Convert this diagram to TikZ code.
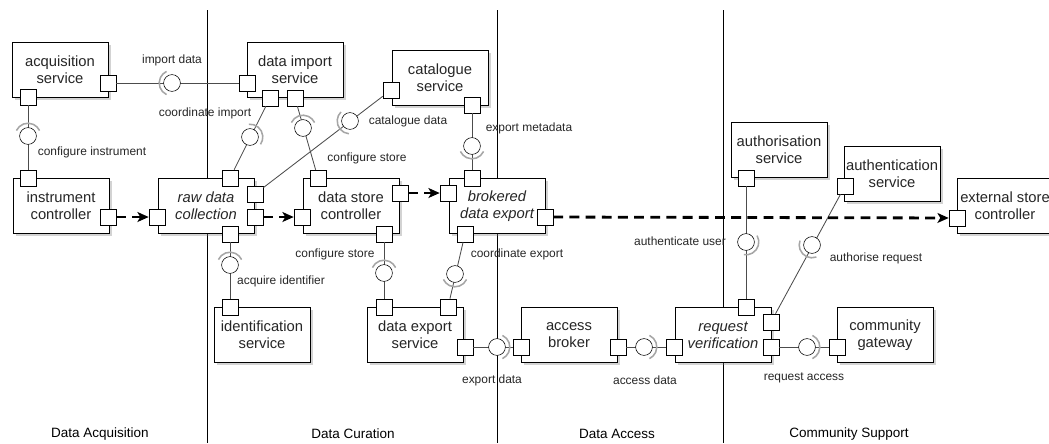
\documentclass[tikz,border=0pt]{standalone}
\usepackage{fontspec}
\setmainfont{Liberation Sans}
\usetikzlibrary{arrows.meta,shadows}

\begin{document}
\begin{tikzpicture}[x=0.025cm, y=-0.025cm,
    >={Stealth[length=8pt,width=7pt,inset=2pt]},
    comp/.style={draw, fill=white, minimum width=2.4cm, minimum height=1.38cm, inner sep=0pt,
      align=center, text=black!85, font=\fontsize{10.5}{12}\selectfont,
      drop shadow={shadow xshift=2pt, shadow yshift=-2pt, opacity=0.35}},
    port/.style={draw, fill=white, minimum size=0.4cm, inner sep=0pt},
    ball/.style={draw, circle, fill=white, minimum size=0.42cm, inner sep=0pt},
    wire/.style={black!70, line width=0.6pt},
    flow/.style={line width=2pt, dash pattern=on 7pt off 4.5pt, ->},
    lbl/.style={text=black!85, font=\fontsize{8.5}{10}\selectfont},
    lanelbl/.style={font=\fontsize{9.6}{11}\selectfont},
    sock/.pic={\draw[gray!70, line width=1.1pt] (65:0.32cm) arc[start angle=65, end angle=-65, radius=0.32cm];}]
  \useasboundingbox (0,0) rectangle (1049,443);

  % swim lanes
  \draw[line width=0.6pt] (207,10) -- (207,443);
  \draw[line width=0.6pt] (497,10) -- (497,443);
  \draw[line width=0.6pt] (723,10) -- (723,443);
  \node[lanelbl] (lane1) at (100,434) {Data Acquisition};
  \node[lanelbl] (lane2) at (353,434) {Data Curation};
  \node[lanelbl] (lane3) at (617,434) {Data Access};
  \node[lanelbl] (lane4) at (849,434) {Community Support};

  % components
  \node[comp] (acq) at (60,70) {acquisition\\service};
  \node[comp] (imp) at (295,70) {data import\\service};
  \node[comp] (cat) at (440,78) {catalogue\\service};
  \node[comp] (inst) at (61,206) {instrument\\controller};
  \node[comp] (raw) at (206,206) {\itshape raw data\\\itshape collection};
  \node[comp] (store) at (351,206) {data store\\controller};
  \node[comp] (brok) at (497,206) {\itshape brokered\\\itshape data export};
  \node[comp] (ident) at (262,335) {identification\\service};
  \node[comp] (expsvc) at (415,335) {data export\\service};
  \node[comp] (access) at (569,335) {access\\broker};
  \node[comp] (verif) at (723,335) {\itshape request\\\itshape verification};
  \node[comp] (gate) at (885,335) {community\\gateway};
  \node[comp] (authz) at (779,150) {authorisation\\service};
  \node[comp] (authn) at (892,174) {authentication\\service};
  \node[comp] (ext) at (1005,206) {external store\\controller};

  % ports
  \node[port] (acq-r) at (108,83) {};
  \node[port] (acq-b) at (28,97) {};
  \node[port] (imp-l) at (247,83) {};
  \node[port] (imp-b1) at (270,98) {};
  \node[port] (imp-b2) at (295,98) {};
  \node[port] (cat-l) at (391,90) {};
  \node[port] (cat-b) at (472,105) {};
  \node[port] (inst-t) at (28,178) {};
  \node[port] (inst-r) at (108,217) {};
  \node[port] (raw-l) at (157,217) {};
  \node[port] (raw-t) at (230,178) {};
  \node[port] (raw-r1) at (255,194) {};
  \node[port] (raw-r2) at (255,217) {};
  \node[port] (raw-b) at (230,234) {};
  \node[port] (store-l) at (302,217) {};
  \node[port] (store-t) at (318,178) {};
  \node[port] (store-r) at (400,193) {};
  \node[port] (store-b) at (384,234) {};
  \node[port] (brok-l) at (448,193) {};
  \node[port] (brok-t) at (472,178) {};
  \node[port] (brok-r) at (545,217) {};
  \node[port] (brok-b) at (465,234) {};
  \node[port] (ident-t) at (230,307) {};
  \node[port] (exp-t1) at (384,307) {};
  \node[port] (exp-t2) at (448,307) {};
  \node[port] (exp-r) at (465,347) {};
  \node[port] (access-l) at (521,347) {};
  \node[port] (access-r) at (618,347) {};
  \node[port] (verif-l) at (674,347) {};
  \node[port] (verif-t) at (746,307) {};
  \node[port] (verif-r1) at (771,322) {};
  \node[port] (verif-r2) at (771,347) {};
  \node[port] (gate-l) at (837,347) {};
  \node[port] (authz-b) at (746,178) {};
  \node[port] (authn-l) at (845,186) {};
  \node[port] (ext-l) at (957,218) {};

  % interfaces
  \draw[wire] (acq-r) -- (imp-l);
  \draw[wire] (acq-b) -- (inst-t);
  \draw[wire] (imp-b1) -- (raw-t);
  \draw[wire] (imp-b2) -- (store-t);
  \draw[wire] (cat-l) -- (raw-r1);
  \draw[wire] (cat-b) -- (brok-t);
  \draw[wire] (raw-b) -- (ident-t);
  \draw[wire] (store-b) -- (exp-t1);
  \draw[wire] (brok-b) -- (exp-t2);
  \draw[wire] (exp-r) -- (access-l);
  \draw[wire] (access-r) -- (verif-l);
  \draw[wire] (verif-r2) -- (gate-l);
  \draw[wire] (authz-b) -- (verif-t);
  \draw[wire] (authn-l) -- (verif-r1);

  \node[ball] (b-imp) at (172,83) {};
  \node[ball] (b-inst) at (28,136) {};
  \node[ball] (b-coord) at (250,137) {};
  \node[ball] (b-cfg1) at (303,128) {};
  \node[ball] (b-cat) at (350,121) {};
  \node[ball] (b-meta) at (472,146) {};
  \node[ball] (b-ident) at (230,265) {};
  \node[ball] (b-cfg2) at (384,273) {};
  \node[ball] (b-cexp) at (455,274) {};
  \node[ball] (b-expd) at (497,347) {};
  \node[ball] (b-accd) at (644,347) {};
  \node[ball] (b-req) at (807,347) {};
  \node[ball] (b-user) at (746,242) {};
  \node[ball] (b-authr) at (812,245) {};

  \pic[rotate=180] at (b-imp) {sock};
  \pic[rotate=90] at (b-inst) {sock};
  \pic[rotate=30] at (b-coord) {sock};
  \pic[rotate=90] at (b-cfg1) {sock};
  \pic[rotate=200] at (b-cat) {sock};
  \pic[rotate=-90] at (b-meta) {sock};
  \pic[rotate=90] at (b-ident) {sock};
  \pic[rotate=90] at (b-cfg2) {sock};
  \pic[rotate=-90] at (b-cexp) {sock};
  \pic at (b-expd) {sock};
  \pic at (b-accd) {sock};
  \pic at (b-req) {sock};
  \pic[rotate=-35] at (b-user) {sock};
  \pic[rotate=225] at (b-authr) {sock};

  \node[lbl] (l-imp) at (172,60) {import data};
  \node[lbl] (l-inst) at (92,152) {configure instrument};
  \node[lbl] (l-coord) at (205,113) {coordinate import};
  \node[lbl] (l-cfg1) at (367,158) {configure store};
  \node[lbl] (l-cat) at (408,121) {catalogue data};
  \node[lbl] (l-meta) at (529,128) {export metadata};
  \node[lbl] (l-ident) at (281,281) {acquire identifier};
  \node[lbl] (l-cfg2) at (335,254) {configure store};
  \node[lbl] (l-cexp) at (517,254) {coordinate export};
  \node[lbl] (l-expd) at (492,380) {export data};
  \node[lbl] (l-accd) at (645,380) {access data};
  \node[lbl] (l-req) at (804,378) {request access};
  \node[lbl] (l-user) at (680,241) {authenticate user};
  \node[lbl] (l-authr) at (876,258) {authorise request};

  % data flow
  \draw[flow] (inst-r) -- (raw-l);
  \draw[flow] (raw-r2) -- (store-l);
  \draw[flow] (store-r) -- (brok-l);
  \draw[flow] (brok-r) -- (ext-l);
\end{tikzpicture}
\end{document}
